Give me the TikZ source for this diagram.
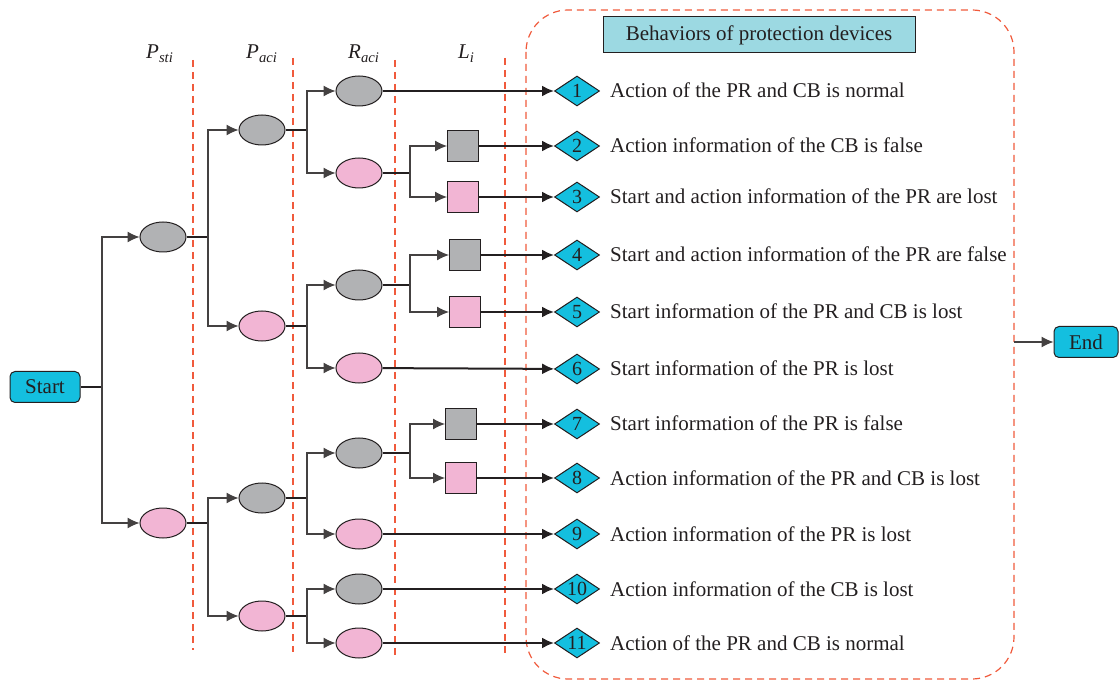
\documentclass[tikz,border=0pt]{standalone}
\usepackage{fontspec}
\setmainfont{Liberation Serif}
\usetikzlibrary{arrows.meta,shapes.geometric}

\definecolor{ink}{HTML}{231F20}
\definecolor{cyanbox}{HTML}{14BFDF}
\definecolor{titlebox}{HTML}{9CD9E2}
\definecolor{ovalgray}{HTML}{B1B2B4}
\definecolor{ovalpink}{HTML}{F2B5D4}
\definecolor{sepred}{HTML}{F05A3C}

\tikzset{
  txt/.style={font=\fontsize{21}{25}\selectfont, text=ink, inner sep=0pt},
  stem/.style={draw=ink, line width=2pt},
  leaf/.style={draw=ink, line width=2pt, -{Latex[length=12pt,width=11pt]}},
  branch/.style={draw=ink!85, line width=1.2pt, -{Latex[length=12pt,width=11pt]}},
  oval/.style={ellipse, draw=ink, line width=1pt, minimum width=46pt, minimum height=30pt, inner sep=0pt},
  gryoval/.style={oval, fill=ovalgray},
  pnkoval/.style={oval, fill=ovalpink},
  sqbox/.style={rectangle, draw=ink, line width=1pt, minimum width=31pt, minimum height=31pt, inner sep=0pt},
  grysq/.style={sqbox, fill=ovalgray},
  pnksq/.style={sqbox, fill=ovalpink},
  dia/.style={diamond, aspect=1.5, draw=ink, line width=1pt, fill=cyanbox, minimum width=45pt, minimum height=30pt, inner sep=0pt, font=\fontsize{20}{24}\selectfont, text=ink},
  termbox/.style={rectangle, rounded corners=5pt, draw=ink, line width=1pt, fill=cyanbox, minimum height=31pt, inner sep=0pt, font=\fontsize{21}{25}\selectfont, text=ink},
  sepline/.style={draw=sepred, line width=1.2pt, dash pattern=on 7pt off 5pt},
  hdr/.style={font=\fontsize{21}{25}\selectfont\itshape, text=ink, inner sep=0pt, anchor=base west},
}

\begin{document}
\begin{tikzpicture}[x=1pt,y=-1pt]
\useasboundingbox (0,0) rectangle (1119,684);

% column separators and the frame around the outcomes
\draw[sepline] (193,60) -- (193,650);
\draw[sepline] (293,58) -- (293,652);
\draw[sepline] (395,60) -- (395,655);
\draw[sepline] (505,58) -- (505,656);
\draw[sepline, rounded corners=42pt] (526,10) rectangle (1014,679);

% column headers
\node[hdr] (hpsti) at (146,59) {P\textsubscript{sti}};
\node[hdr] (hpaci) at (246,59) {P\textsubscript{aci}};
\node[hdr] (hraci) at (348,59) {R\textsubscript{aci}};
\node[hdr] (hli)   at (458,59) {L\textsubscript{i}};

\node[rectangle, draw=ink, line width=1pt, fill=titlebox, minimum width=312pt, minimum height=36pt, inner sep=0pt, font=\fontsize{21}{25}\selectfont, text=ink] (title) at (759,35) {Behaviors of protection devices};

% start and end
\node[termbox, minimum width=70pt] (start) at (45,387) {Start};
\node[termbox, minimum width=64pt] (end) at (1086,342) {End};

% first level
\node[gryoval] (a1) at (163,237) {};
\node[pnkoval] (a2) at (163,523) {};

% second level
\node[gryoval] (b1) at (262,130) {};
\node[pnkoval] (b2) at (262,326) {};
\node[gryoval] (b3) at (262,498) {};
\node[pnkoval] (b4) at (262,616) {};

% third level
\node[gryoval] (c1) at (359,91) {};
\node[pnkoval] (c2) at (359,173) {};
\node[gryoval] (c3) at (359,285) {};
\node[pnkoval] (c4) at (359,368) {};
\node[gryoval] (c5) at (359,453) {};
\node[pnkoval] (c6) at (359,534) {};
\node[gryoval] (c7) at (359,589) {};
\node[pnkoval] (c8) at (359,643) {};

% fourth level
\node[grysq] (s1) at (463,146) {};
\node[pnksq] (s2) at (463,197) {};
\node[grysq] (s3) at (465,255) {};
\node[pnksq] (s4) at (465,312) {};
\node[grysq] (s5) at (461,424) {};
\node[pnksq] (s6) at (461,478) {};

% outcome markers
\node[dia] (d1)  at (577,91)  {1};
\node[dia] (d2)  at (577,146) {2};
\node[dia] (d3)  at (577,197) {3};
\node[dia] (d4)  at (577,255) {4};
\node[dia] (d5)  at (577,312) {5};
\node[dia] (d6)  at (577,369) {6};
\node[dia] (d7)  at (577,424) {7};
\node[dia] (d8)  at (577,478) {8};
\node[dia] (d9)  at (577,534) {9};
\node[dia] (d10) at (577,589) {10};
\node[dia] (d11) at (577,643) {11};

% outcome descriptions
\node[txt, anchor=base west] (t1)  at (610,98)  {Action of the PR and CB is normal};
\node[txt, anchor=base west] (t2)  at (610,153) {Action information of the CB is false};
\node[txt, anchor=base west] (t3)  at (610,204) {Start and action information of the PR are lost};
\node[txt, anchor=base west] (t4)  at (610,262) {Start and action information of the PR are false};
\node[txt, anchor=base west] (t5)  at (610,319) {Start information of the PR and CB is lost};
\node[txt, anchor=base west] (t6)  at (610,376) {Start information of the PR is lost};
\node[txt, anchor=base west] (t7)  at (610,431) {Start information of the PR is false};
\node[txt, anchor=base west] (t8)  at (610,485) {Action information of the PR and CB is lost};
\node[txt, anchor=base west] (t9)  at (610,541) {Action information of the PR is lost};
\node[txt, anchor=base west] (t10) at (610,596) {Action information of the CB is lost};
\node[txt, anchor=base west] (t11) at (610,650) {Action of the PR and CB is normal};

% branching points
\coordinate (j0)  at (102,387);
\coordinate (j1a) at (208,237);
\coordinate (j1b) at (208,523);
\coordinate (j2a) at (307,130);
\coordinate (j2b) at (307,326);
\coordinate (j2c) at (307,498);
\coordinate (j2d) at (307,616);
\coordinate (j3a) at (410,173);
\coordinate (j3b) at (410,285);
\coordinate (j3c) at (410,453);
\coordinate (frame) at (1014,342);

% start to first level
\draw[stem] (start) -- (j0);
\draw[branch] (j0) |- (a1);
\draw[branch] (j0) |- (a2);

% first to second level
\draw[stem] (a1) -- (j1a);
\draw[branch] (j1a) |- (b1);
\draw[branch] (j1a) |- (b2);
\draw[stem] (a2) -- (j1b);
\draw[branch] (j1b) |- (b3);
\draw[branch] (j1b) |- (b4);

% second to third level
\draw[stem] (b1) -- (j2a);
\draw[branch] (j2a) |- (c1);
\draw[branch] (j2a) |- (c2);
\draw[stem] (b2) -- (j2b);
\draw[branch] (j2b) |- (c3);
\draw[branch] (j2b) |- (c4);
\draw[stem] (b3) -- (j2c);
\draw[branch] (j2c) |- (c5);
\draw[branch] (j2c) |- (c6);
\draw[stem] (b4) -- (j2d);
\draw[branch] (j2d) |- (c7);
\draw[branch] (j2d) |- (c8);

% third to fourth level
\draw[stem] (c2) -- (j3a);
\draw[branch] (j3a) |- (s1);
\draw[branch] (j3a) |- (s2);
\draw[stem] (c3) -- (j3b);
\draw[branch] (j3b) |- (s3);
\draw[branch] (j3b) |- (s4);
\draw[stem] (c5) -- (j3c);
\draw[branch] (j3c) |- (s5);
\draw[branch] (j3c) |- (s6);

% leaves to outcomes
\draw[leaf] (c1) -- (d1);
\draw[leaf] (s1) -- (d2);
\draw[leaf] (s2) -- (d3);
\draw[leaf] (s3) -- (d4);
\draw[leaf] (s4) -- (d5);
\draw[leaf] (c4) -- (d6);
\draw[leaf] (s5) -- (d7);
\draw[leaf] (s6) -- (d8);
\draw[leaf] (c6) -- (d9);
\draw[leaf] (c7) -- (d10);
\draw[leaf] (c8) -- (d11);

% frame to end
\draw[branch] (frame) -- (end);
\end{tikzpicture}
\end{document}
